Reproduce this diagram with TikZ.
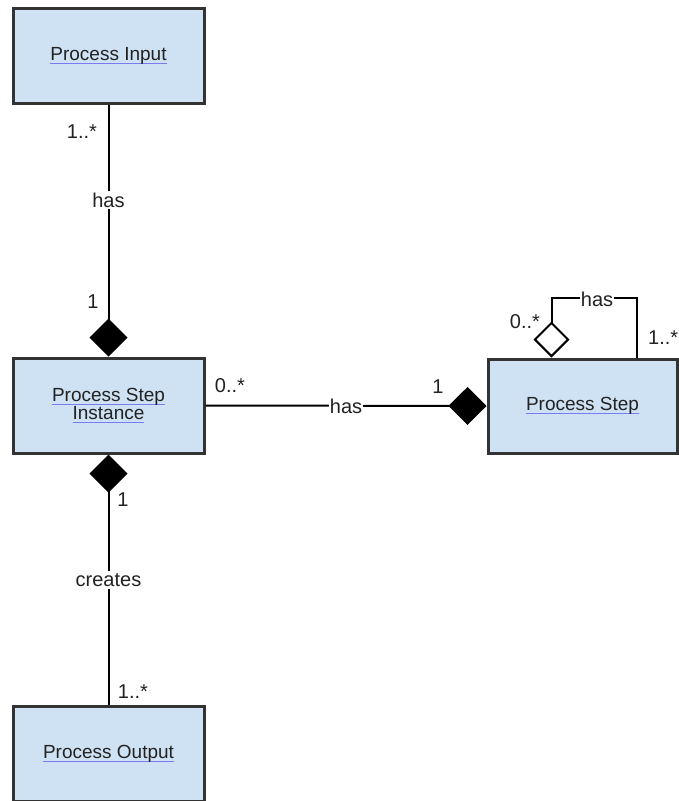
\documentclass[tikz,border=0pt]{standalone}
\usepackage{fontspec}
\setmainfont{Liberation Sans}
\usetikzlibrary{arrows.meta}
\definecolor{boxfill}{HTML}{CFE2F3}
\definecolor{boxline}{HTML}{333333}
\definecolor{ulblue}{HTML}{7B7BEF}
\definecolor{txt}{HTML}{222222}
\newsavebox\ulbox
\newcommand\blueul[1]{\sbox\ulbox{#1}\rlap{\color{ulblue}\rule[-3.2pt]{\wd\ulbox}{1.1pt}}\usebox\ulbox}
\tikzset{
  cls/.style={draw=boxline, line width=3pt, fill=boxfill, text=txt,
    minimum width=191pt, minimum height=95pt, inner sep=0pt,
    font=\fontsize{19}{17}\selectfont, align=center},
  conn/.style={line width=2pt, draw=black},
  lbl/.style={text=txt, inner sep=1pt, font=\fontsize{20}{24}\selectfont},
  mid/.style={lbl, fill=white, inner sep=2pt},
  compo/.style={-{Diamond[length=38pt,width=38pt,fill=black]}},
  aggr/.style={{Diamond[length=36pt,width=36pt,open,fill=white]}-},
}
\begin{document}
\begin{tikzpicture}[x=1pt,y=-1pt]
\useasboundingbox (0,0) rectangle (678,801);
% classes
\node[cls] (pin) at (108.5,56) {\blueul{Process Input}};
\node[cls] (psi) at (108.5,405.5) {\blueul{Process Step}\\\blueul{Instance}};
\node[cls, minimum width=189pt, minimum height=94pt] (ps) at (582.5,406) {\blueul{Process Step}};
\node[cls] (pout) at (108.5,754) {\blueul{Process Output}};
% Process Input -- Process Step Instance
\draw[conn, compo] (pin.south) -- (psi.north);
\node[mid] (hasA) at (108.5,200) {has};
\node[lbl] (mA1) at (82,132) {1..*};
\node[lbl] (mA2) at (93,302) {1};
% Process Step Instance -- Process Step
\draw[conn, compo] (psi.east) -- (ps.west);
\node[mid, inner xsep=1pt] (hasB) at (346,406) {has};
\node[lbl] (mB1) at (230,386) {0..*};
\node[lbl] (mB2) at (438,387) {1};
% Process Step self association
\draw[conn, aggr] ([xshift=65pt]ps.north west) -- ++(0,-60) -| ([xshift=150pt]ps.north west);
\node[mid, inner xsep=1pt] (hasC) at (597,299) {has};
\node[lbl] (mC1) at (525,322) {0..*};
\node[lbl, anchor=west] (mC2) at (647,338) {1..*};
% Process Step Instance -- Process Output
\draw[conn, {Diamond[length=38pt,width=38pt,fill=black]}-] (psi.south) -- (pout.north);
\node[mid] (creates) at (108.5,580) {creates};
\node[lbl] (mD1) at (123,500) {1};
\node[lbl] (mD2) at (133,692) {1..*};
\end{tikzpicture}
\end{document}
